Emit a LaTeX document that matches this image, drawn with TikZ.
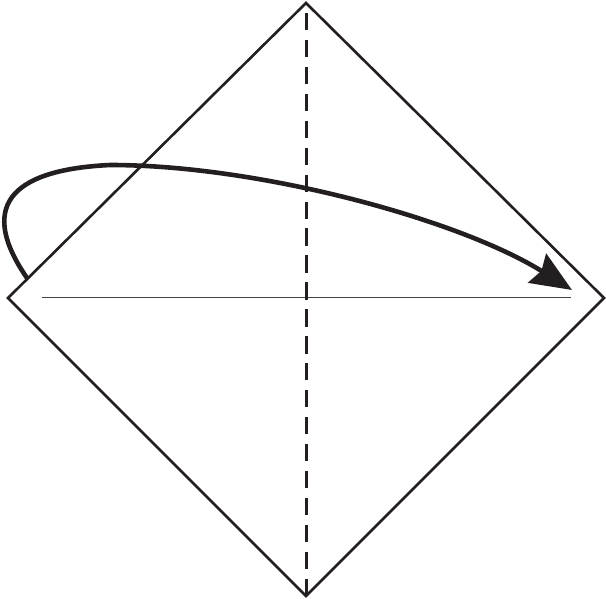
\documentclass[tikz,border=0pt]{standalone}
\usetikzlibrary{arrows.meta}
\definecolor{ink}{HTML}{231F20}
\begin{document}
\begin{tikzpicture}[x=1pt,y=-1pt,
  edge/.style={draw=ink,line width=2.6pt,line join=miter},
  crease/.style={draw=ink,line width=3pt,dash pattern=on 17.4pt off 9.53pt},
  thin/.style={draw=ink!85,line width=1pt},
  foldarrow/.style={draw=ink,line width=4.6pt,-{Stealth[length=41pt,width=34pt,inset=5pt]}}]
\useasboundingbox (0,0) rectangle (606,599);
\coordinate (T) at (306,3);
\coordinate (L) at (8,298);
\coordinate (R) at (604,298);
\coordinate (B) at (306,596);
\coordinate (hl) at (42,298);
\coordinate (hr) at (571,298);
\coordinate (ds) at (306,13);
\coordinate (A0) at (27,278);
\coordinate (A1) at (110,165);
\coordinate (A2) at (572,290);
\draw[thin] (hl) -- (hr);
\draw[crease] (ds) -- (B);
\draw[edge] (T) -- (R) -- (B) -- (L) -- cycle;
\draw[foldarrow] (A0) .. controls (-20,210) and (5,170) .. (A1)
  .. controls (260,165) and (460,220) .. (A2);
\end{tikzpicture}
\end{document}
